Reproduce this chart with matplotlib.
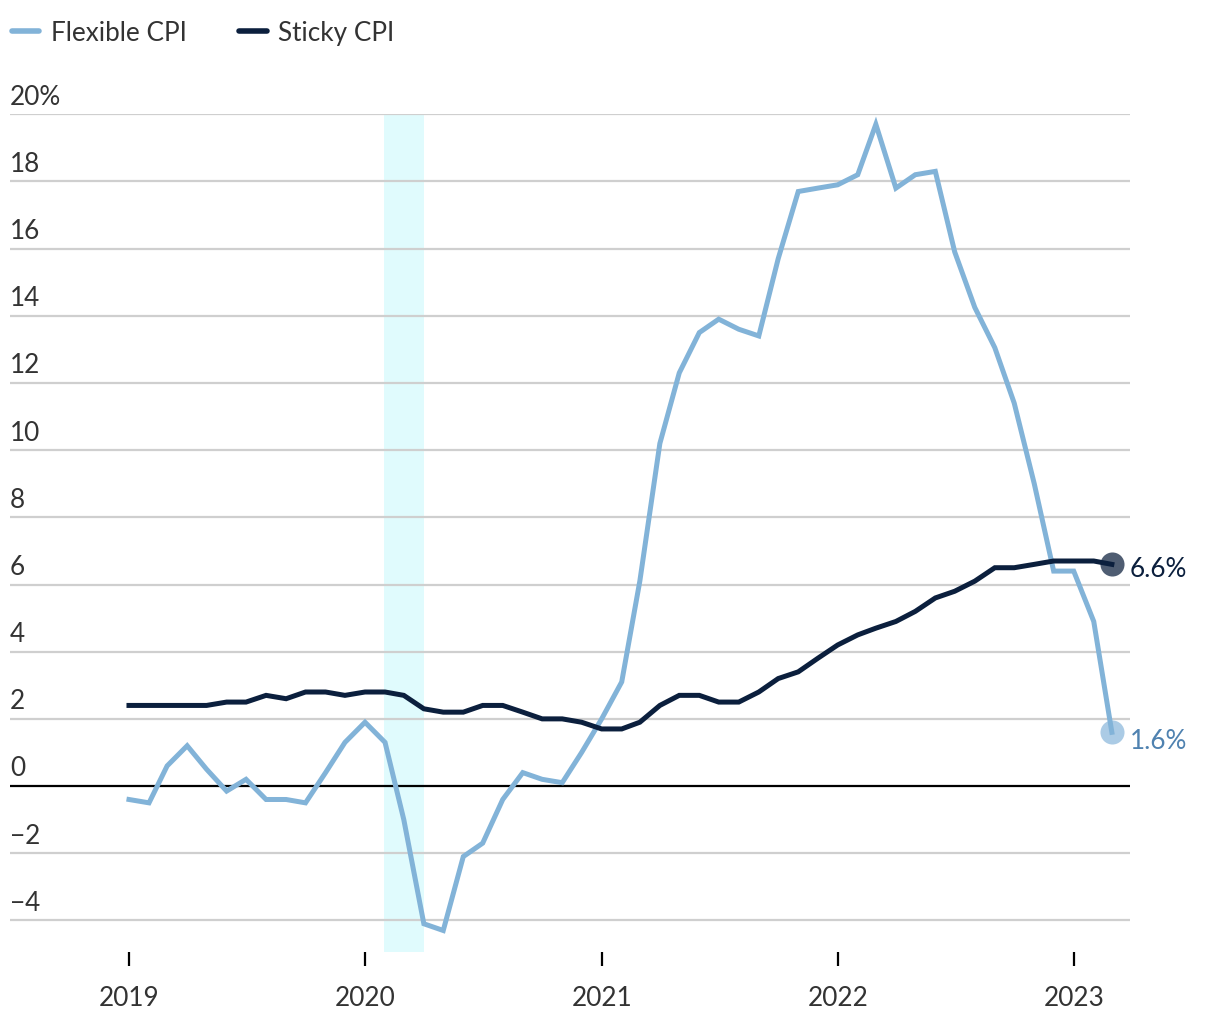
import matplotlib
matplotlib.use("Agg")
import matplotlib.pyplot as plt
import matplotlib.dates as mdates
import matplotlib.transforms as mtransforms
import pandas as pd

plt.rcParams['font.family'] = ['Lato', 'DejaVu Sans']

# monthly, Jan 2019 - Mar 2023 (12-month % change)
months = pd.date_range('2019-01-01', periods=51, freq='MS')

flexible_cpi = [
    -0.4, -0.5, 0.6, 1.2, 0.5, -0.15, 0.2, -0.4, -0.4, -0.5, 0.4, 1.3,
    1.9, 1.3, -1.0, -4.1, -4.3, -2.1, -1.7, -0.4, 0.4, 0.2, 0.1, 1.0,
    2.0, 3.1, 6.1, 10.2, 12.3, 13.5, 13.9, 13.6, 13.4, 15.7, 17.7, 17.8,
    17.9, 18.2, 19.7, 17.8, 18.2, 18.3, 15.9, 14.25, 13.05, 11.4, 9.0, 6.4,
    6.4, 4.9, 1.6,
]
sticky_cpi = [
    2.4, 2.4, 2.4, 2.4, 2.4, 2.5, 2.5, 2.7, 2.6, 2.8, 2.8, 2.7,
    2.8, 2.8, 2.7, 2.3, 2.2, 2.2, 2.4, 2.4, 2.2, 2.0, 2.0, 1.9,
    1.7, 1.7, 1.9, 2.4, 2.7, 2.7, 2.5, 2.5, 2.8, 3.2, 3.4, 3.8,
    4.2, 4.5, 4.7, 4.9, 5.2, 5.6, 5.8, 6.1, 6.5, 6.5, 6.6, 6.7,
    6.7, 6.7, 6.6,
]

recession_start = pd.Timestamp('2020-01-31')
recession_end = pd.Timestamp('2020-04-01')

y_ticks = [-4, -2, 0, 2, 4, 6, 8, 10, 12, 14, 16, 18, 20]
y_labels = ['\u22124', '\u22122', '0', '2', '4', '6', '8', '10', '12', '14', '16', '18', '20%']
x_years = [2019, 2020, 2021, 2022, 2023]

flex_color = '#82b3d8'
sticky_color = '#0b1f3d'
text_color = '#333333'
fs = 18.8

fig = plt.figure(figsize=(12.2, 10.2), dpi=100)
ax = fig.add_axes([0.0082, 0.0657, 0.918, 0.8213])

ax.axvspan(recession_start, recession_end, color='#e0fbfd', zorder=0, lw=0)

for v in y_ticks:
    if v == 0:
        ax.axhline(v, color='black', lw=1.6, zorder=1)
    else:
        ax.axhline(v, color='#cfcfcf', lw=1.6, zorder=1)

ax.plot(months, flexible_cpi, color=flex_color, lw=3.6, zorder=3,
        solid_joinstyle='miter', label='Flexible CPI')
ax.plot(months, sticky_cpi, color=sticky_color, lw=3.6, zorder=4,
        solid_joinstyle='miter', label='Sticky CPI')

# end markers + value labels
ax.scatter([months[-1]], [sticky_cpi[-1]], s=300, color='#4f5d72', zorder=3.5, lw=0)
ax.scatter([months[-1]], [flexible_cpi[-1]], s=300, color='#abcbe5', zorder=2.5, lw=0)
ax.annotate(f'{sticky_cpi[-1]:.1f}%', (months[-1], sticky_cpi[-1]), xytext=(13, -3),
            textcoords='offset points', va='center', ha='left', fontsize=fs,
            color=sticky_color, annotation_clip=False)
ax.annotate(f'{flexible_cpi[-1]:.1f}%', (months[-1], flexible_cpi[-1]), xytext=(13, -6),
            textcoords='offset points', va='center', ha='left', fontsize=fs,
            color='#4f82b0', annotation_clip=False)

ax.set_xlim(pd.Timestamp('2018-07-01'), pd.Timestamp('2023-03-29'))
ax.set_ylim(-4.94, 20)

ax.set_xticks([pd.Timestamp(f'{y}-01-01') for y in x_years])
ax.xaxis.set_major_formatter(mdates.DateFormatter('%Y'))
ax.tick_params(axis='x', length=10, width=1.6, color='black', pad=14,
               labelsize=fs, labelcolor=text_color)
ax.set_yticks([])
for s in ax.spines.values():
    s.set_visible(False)

# y labels sit just above their gridline, flush left
trans = mtransforms.blended_transform_factory(ax.transAxes, ax.transData)
lift = mtransforms.ScaledTranslation(0, 4 / 72, fig.dpi_scale_trans)
for v, lab in zip(y_ticks, y_labels):
    ax.text(0.0, v, lab, transform=trans + lift, ha='left', va='bottom', fontsize=fs,
            color=text_color)

leg = fig.legend(loc='upper left', bbox_to_anchor=(0.0098, 0.979), ncol=2, frameon=False,
                 fontsize=fs, handlelength=1.05, handletextpad=0.45, columnspacing=2.0,
                 labelcolor=text_color, borderaxespad=0, borderpad=0)
for h in leg.get_lines():
    h.set_linewidth(4)
    h.set_solid_capstyle('round')

fig.savefig('out.png', dpi=100)
